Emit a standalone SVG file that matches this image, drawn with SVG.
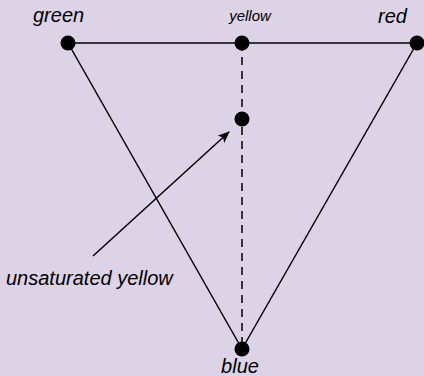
<svg xmlns="http://www.w3.org/2000/svg" width="424" height="376" viewBox="0 0 424 376">
<style>
.t{font-family:"Liberation Sans",Arial,sans-serif;font-style:italic;fill:#000}
.l{stroke:#000;stroke-width:1.5;fill:none}
</style>
<defs>
<marker id="ah" markerWidth="12" markerHeight="10" refX="11" refY="5" orient="auto" markerUnits="userSpaceOnUse">
<path d="M0,0 L12,5 L0,10 L3,5 Z" fill="#000"/>
</marker>
</defs>
<rect width="424" height="376" fill="#ddd3e6"/>
<g id="connectors">
<line class="l" x1="68" y1="43" x2="417" y2="43"/>
<line class="l" x1="68" y1="43" x2="242" y2="349"/>
<line class="l" x1="417" y1="43" x2="242" y2="349"/>
<line class="l" x1="242" y1="43" x2="242" y2="349" stroke-dasharray="8,6"/>
<line class="l" x1="93" y1="256" x2="229" y2="132" marker-end="url(#ah)"/>
</g>
<g id="green"><circle cx="68" cy="43" r="7.5"/><text class="t" x="33" y="22" font-size="20">green</text></g>
<g id="yellow"><circle cx="242" cy="43" r="7.5"/><text class="t" x="250" y="21" font-size="15" text-anchor="middle">yellow</text></g>
<g id="red"><circle cx="417" cy="43" r="7.5"/><text class="t" x="378" y="23" font-size="20">red</text></g>
<g id="blue"><circle cx="242" cy="349" r="7.5"/><text class="t" x="240" y="373" font-size="20" text-anchor="middle">blue</text></g>
<g id="unsaturated"><circle cx="242" cy="119" r="7.5"/></g>
<g id="label"><text class="t" x="6" y="285" font-size="20">unsaturated yellow</text></g>
</svg>
